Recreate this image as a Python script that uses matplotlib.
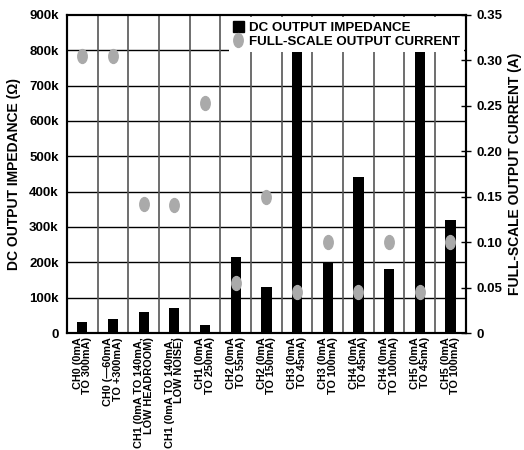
import numpy as np
import matplotlib.pyplot as plt
from matplotlib.markers import MarkerStyle
from matplotlib.transforms import Affine2D
from matplotlib.lines import Line2D
from matplotlib.patches import Patch

plt.rcParams['font.family'] = ['Liberation Sans', 'DejaVu Sans']
plt.rcParams['font.weight'] = 'bold'

labels = ['CH0 (0mA\nTO 300mA)', 'CH0 (\u201460mA\nTO +300mA)',
          'CH1 (0mA TO 140mA,\nLOW HEADROOM)', 'CH1 (0mA TO 140mA,\nLOW NOISE)',
          'CH1 (0mA\nTO 250mA)', 'CH2 (0mA\nTO 55mA)', 'CH2 (0mA\nTO 150mA)',
          'CH3 (0mA\nTO 45mA)', 'CH3 (0mA\nTO 100mA)', 'CH4 (0mA\nTO 45mA)',
          'CH4 (0mA\nTO 100mA)', 'CH5 (0mA\nTO 45mA)', 'CH5 (0mA\nTO 100mA)']
impedance = [32e3, 40e3, 60e3, 70e3, 22e3, 215e3, 130e3, 800e3, 198e3, 442e3, 180e3, 800e3, 320e3]
current = [0.305, 0.305, 0.142, 0.141, 0.253, 0.055, 0.150, 0.045, 0.100, 0.045, 0.100, 0.045, 0.100]

x = np.arange(len(labels))

fig = plt.figure(figsize=(5.24, 4.5), dpi=100)
ax = fig.add_axes([0.128, 0.26, 0.761, 0.707])
ax2 = ax.twinx()

ax.bar(x, impedance, width=0.33, color='black', zorder=3)
ax.set_xlim(-0.5, len(labels) - 0.5)
ax.set_ylim(0, 900e3)
ax.set_yticks(np.arange(0, 900001, 100000))
ax.set_yticklabels(['0'] + ['%dk' % v for v in range(100, 901, 100)], fontsize=9.5, fontweight='bold')
for yv in np.arange(100000, 900000, 100000):
    ax.axhline(yv, color='black', lw=1.0, zorder=1)
for xv in np.arange(0.5, len(labels) - 0.5, 1):
    ax.axvline(xv, color='#555555', lw=1.2, zorder=1)
ax.tick_params(axis='y', length=0, pad=6)
ax.tick_params(axis='x', length=0, pad=3)
ax.set_xticks(x)
ax.set_xticklabels(labels, rotation=90, fontsize=7.8, fontweight='bold',
                   va='top', ha='center', multialignment='right', linespacing=0.95)
ax.set_ylabel('DC OUTPUT IMPEDANCE (\u03a9)', fontsize=10, fontweight='bold', labelpad=6)

ell = MarkerStyle('o', transform=Affine2D().scale(0.68, 1.0))
ax2.plot(x, current, linestyle='none', marker=ell, markersize=10, color='#aaaaaa',
         markeredgecolor='#aaaaaa', zorder=4)
ax2.set_ylim(0, 0.35)
ax2.set_yticks(np.arange(0, 0.351, 0.05))
ax2.set_yticklabels(['0', '0.05', '0.10', '0.15', '0.20', '0.25', '0.30', '0.35'],
                    fontsize=9.5, fontweight='bold')
ax2.tick_params(axis='y', direction='inout', length=7, width=1, pad=4)
ax2.set_ylabel('FULL-SCALE OUTPUT CURRENT (A)', fontsize=10, fontweight='bold',
               rotation=90, labelpad=4)

for a in (ax, ax2):
    for s in a.spines.values():
        s.set_linewidth(1.5)

handles = [Patch(facecolor='black', edgecolor='black'),
           Line2D([], [], linestyle='none', marker=ell, markersize=10, color='#aaaaaa')]
leg = ax2.legend(handles, ['DC OUTPUT IMPEDANCE', 'FULL-SCALE OUTPUT CURRENT'],
                 loc='upper right', bbox_to_anchor=(1.0, 1.0), borderaxespad=0.15,
                 frameon=True, fancybox=False, edgecolor='none', facecolor='white',
                 framealpha=1, prop={'weight': 'bold', 'size': 9.6},
                 handlelength=0.8, handleheight=0.9, handletextpad=0.4,
                 labelspacing=0.05, borderpad=0.3)
leg.set_zorder(10)

fig.savefig('out.png', dpi=100)
